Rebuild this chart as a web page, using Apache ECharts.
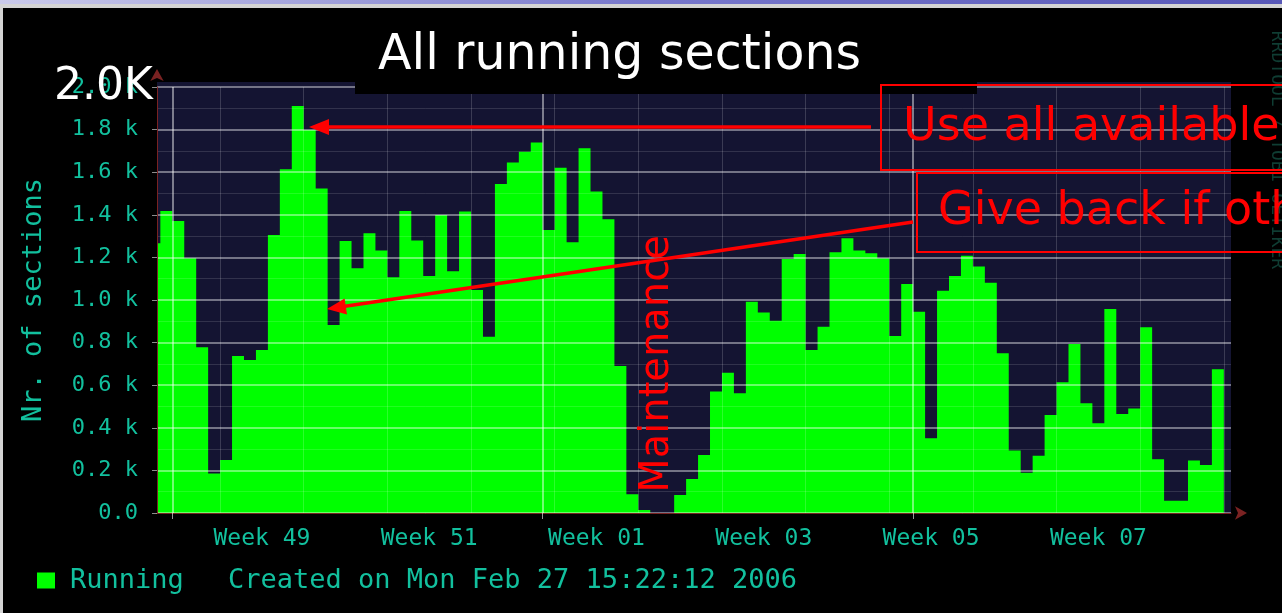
<!DOCTYPE html>
<html>
<head>
<meta charset="utf-8">
<script src="https://cdn.jsdelivr.net/npm/echarts@6/dist/echarts.min.js"></script>
<style>
html,body{margin:0;padding:0;background:#000;overflow:hidden;}
#c{width:1282px;height:613px;}
</style>
</head>
<body>
<div id="c"></div>
<script>
// ---- data (x = days since 1 Dec 2005, one value per day) ----
const firstDay = -2;
const running = [
  1266, 1418, 1371, 1196, 778, 186, 249, 737, 718, 765,
  1305, 1614, 1911, 1798, 1524, 883, 1277, 1149, 1313, 1232,
  1107, 1418, 1279, 1113, 1399, 1135, 1415, 1047, 828, 1545,
  1645, 1696, 1739, 1329, 1621, 1271, 1712, 1509, 1379, 690,
  88, 14, 0, 0, 85, 160, 272, 570, 659, 562,
  992, 941, 903, 1193, 1216, 765, 875, 1224, 1290, 1232,
  1219, 1196, 831, 1075, 945, 351, 1044, 1113, 1208, 1157,
  1081, 750, 293, 189, 269, 460, 614, 793, 515, 421,
  958, 465, 491, 872, 252, 58, 58, 246, 225, 675
];
const weekStartDays = [4, 11, 18, 25, 32, 39, 46, 53, 60, 67, 74, 81, 88];
const monthStartDays = [0, 31, 62];
const weekLabels = ['Week 49', 'Week 51', 'Week 01', 'Week 03', 'Week 05', 'Week 07'];
const weekLabelStartDays = [4, 18, 32, 46, 60, 74];
const yTickLabels = ['0.0', '0.2 k', '0.4 k', '0.6 k', '0.8 k', '1.0 k', '1.2 k', '1.4 k', '1.6 k', '1.8 k', '2.0 k'];
const seriesName = 'Running';
const createdText = 'Created on Mon Feb 27 15:22:12 2006';

// ---- build ----
const stepData = running.map((v, i) => [firstDay + i, v]);
stepData.push([firstDay + running.length, running[running.length - 1]]);
const weekLabelPos = weekLabelStartDays.map(d => d + 3.5);

const teal = '#12c09e';
const mono = 'DejaVu Sans Mono';
const hand = 'DejaVu Sans';
const xMin = -1.28, xMax = 88.6;

const baseX = {
  type: 'value', min: xMin, max: xMax, gridIndex: 0, z: 3, position: 'bottom',
  axisLine: { show: false, onZero: false }, axisTick: { show: false },
  axisLabel: { show: false }, splitLine: { show: false }
};

const chart = echarts.init(document.getElementById('c'), null, { renderer: 'canvas' });
chart.setOption({
  backgroundColor: '#000',
  animation: false,
  grid: {
    left: 157, right: 51, top: 87, bottom: 100,
    show: true, backgroundColor: '#141432', borderWidth: 0
  },
  title: {
    text: createdText, left: 223, top: 562,
    textStyle: { color: teal, fontFamily: mono, fontSize: 27, fontWeight: 'normal' }
  },
  legend: {
    data: [seriesName], left: 37, top: 567, padding: 0,
    icon: 'rect', itemWidth: 18, itemHeight: 16,
    textStyle: { color: teal, fontFamily: mono, fontSize: 27, padding: [0, 0, 0, 10] }
  },
  xAxis: [
    Object.assign({}, baseX, {
      axisLine: { show: true, onZero: false, lineStyle: { color: '#7a2222' }, symbol: ['none', 'arrow'], symbolSize: [10, 12], symbolOffset: [0, 16] },
      axisTick: { show: false, customValues: weekStartDays },
      splitLine: { show: true, lineStyle: { color: 'rgba(255,255,255,0.17)', width: 1 } }
    }),
    Object.assign({}, baseX, {
      axisTick: { show: true, customValues: monthStartDays, length: 6, lineStyle: { color: 'rgba(255,255,255,0.6)' } },
      splitLine: { show: true, lineStyle: { color: 'rgba(255,255,255,0.6)', width: 1.5 } }
    }),
    Object.assign({}, baseX, {
      axisLabel: {
        show: true, customValues: weekLabelPos, margin: 15,
        color: teal, fontFamily: mono, fontSize: 23,
        formatter: v => weekLabels[weekLabelPos.indexOf(v)] || ''
      }
    })
  ],
  yAxis: {
    type: 'value', min: 0, max: 2000, interval: 200, z: 3,
    axisLine: { show: true, onZero: false, lineStyle: { color: '#7a2222' }, symbol: ['none', 'arrow'], symbolSize: [10, 12], symbolOffset: [0, 18] },
    axisTick: { show: true, length: 5, lineStyle: { color: 'rgba(255,255,255,0.55)' } },
    axisLabel: {
      color: teal, fontFamily: mono, fontSize: 22, margin: 19,
      formatter: v => yTickLabels[Math.round(v / 200)]
    },
    splitLine: { show: true, lineStyle: { color: 'rgba(255,255,255,0.55)', width: 1.5 } },
    minorTick: { show: false, splitNumber: 2 },
    minorSplitLine: { show: true, lineStyle: { color: 'rgba(255,255,255,0.13)' } },
    name: 'Nr. of sections', nameLocation: 'middle', nameRotate: 90, nameGap: 110,
    nameTextStyle: { color: teal, fontFamily: mono, fontSize: 27 }
  },
  series: [{
    name: seriesName, type: 'line', step: 'end', xAxisIndex: 0,
    data: stepData, symbol: 'none', z: 2,
    lineStyle: { width: 0, color: '#00ff00' },
    itemStyle: { color: '#00ff00' },
    areaStyle: { color: '#00ff00', opacity: 1 }
  }],
  graphic: [
    // slide frame
    { type: 'rect', z: 50, shape: { x: 0, y: 0, width: 1282, height: 4 },
      style: { fill: new echarts.graphic.LinearGradient(0, 0, 1, 0, [
        { offset: 0, color: '#cacaea' }, { offset: 0.5, color: '#7878cc' }, { offset: 1, color: '#5858b8' }]) } },
    { type: 'rect', z: 50, shape: { x: 0, y: 4, width: 1282, height: 4 }, style: { fill: '#d4d4d4' } },
    { type: 'rect', z: 50, shape: { x: 0, y: 4, width: 3, height: 609 }, style: { fill: '#d4d4d4' } },
    // plot background strip above top grid line
    { type: 'rect', z: 1, shape: { x: 157, y: 82, width: 1074, height: 5 }, style: { fill: '#141432' } },
    // rrdtool watermark
    { type: 'text', z: 50, x: 1277, y: 150, rotation: -Math.PI / 2,
      style: { text: 'RRDTOOL / TOBI OETIKER', fontFamily: mono, fontSize: 18, fill: '#0f3d33', align: 'center', verticalAlign: 'middle' } },
    // title box
    { type: 'rect', z: 60, shape: { x: 355, y: 10, width: 622, height: 84 }, style: { fill: '#000' } },
    { type: 'text', z: 61, x: 378, y: 56,
      style: { text: 'All running sections', fontFamily: hand, fontSize: 49, fill: '#fff', align: 'left', verticalAlign: 'middle' } },
    { type: 'text', z: 61, x: 54, y: 88,
      style: { text: '2.0K', fontFamily: hand, fontSize: 44, fill: '#fff', align: 'left', verticalAlign: 'middle' } },
    // red annotations
    { type: 'rect', z: 62, shape: { x: 881, y: 85, width: 430, height: 85 }, style: { fill: 'none', stroke: '#ff0000', lineWidth: 2 } },
    { type: 'rect', z: 62, shape: { x: 917, y: 173, width: 400, height: 79 }, style: { fill: 'none', stroke: '#ff0000', lineWidth: 2 } },
    { type: 'text', z: 62, x: 903, y: 128,
      style: { text: 'Use all available', fontFamily: hand, fontSize: 46, fill: '#ff0000', align: 'left', verticalAlign: 'middle' } },
    { type: 'text', z: 62, x: 938, y: 212,
      style: { text: 'Give back if others need them', fontFamily: hand, fontSize: 46, fill: '#ff0000', align: 'left', verticalAlign: 'middle' } },
    { type: 'line', z: 62, shape: { x1: 871, y1: 127, x2: 322, y2: 127 }, style: { stroke: '#ff0000', lineWidth: 3.5 } },
    { type: 'polygon', z: 62, shape: { points: [[309, 127], [329, 119], [329, 135]] }, style: { fill: '#ff0000' } },
    { type: 'line', z: 62, shape: { x1: 913, y1: 222, x2: 340, y2: 307 }, style: { stroke: '#ff0000', lineWidth: 3.5 } },
    { type: 'polygon', z: 62, shape: { points: [[327, 309], [347, 314.5], [344.6, 298.5]] }, style: { fill: '#ff0000' } },
    { type: 'text', z: 62, x: 658, y: 364, rotation: Math.PI / 2,
      style: { text: 'Maintenance', fontFamily: hand, fontSize: 40, fill: '#ff0000', align: 'center', verticalAlign: 'middle' } }
  ]
});
</script>
</body>
</html>
